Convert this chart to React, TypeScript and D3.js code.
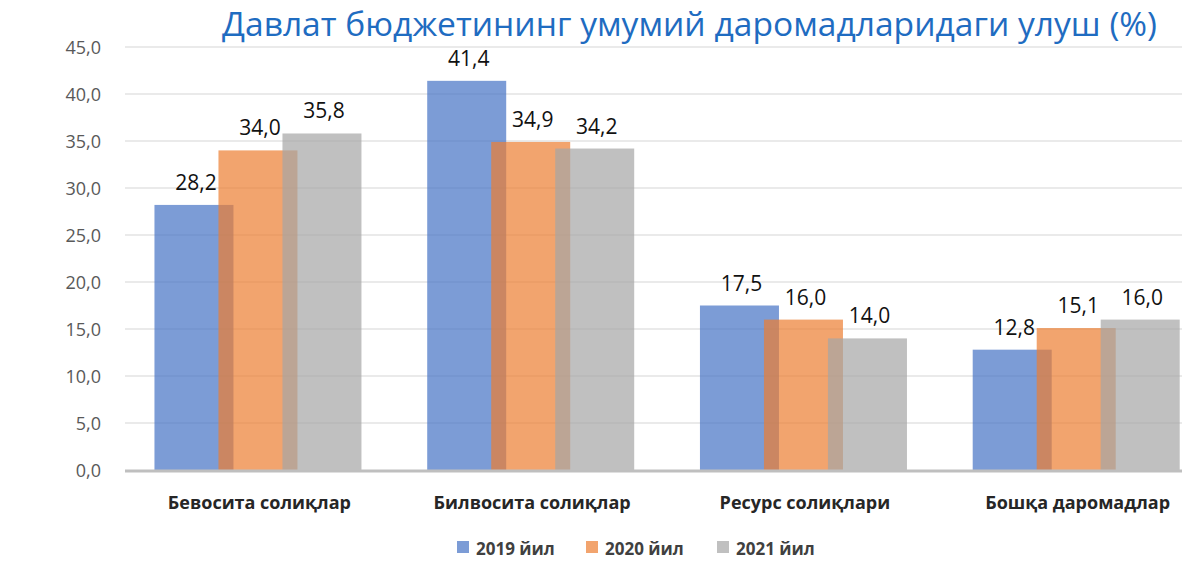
import * as d3 from "d3";

const categories = [
  "Бевосита солиқлар",
  "Билвосита солиқлар",
  "Ресурс солиқлари",
  "Бошқа даромадлар",
];
const seriesNames = ["2019 йил", "2020 йил", "2021 йил"];
const values2019 = [28.2, 41.4, 17.5, 12.8];
const values2020 = [34.0, 34.9, 16.0, 15.1];
const values2021 = [35.8, 34.2, 14.0, 16.0];
const yTicks = [0, 5, 10, 15, 20, 25, 30, 35, 40, 45];
const colors = ["#4472C4", "#ED7D31", "#A5A5A5"];

const title = "Давлат бюджетининг умумий даромадларидаги улуш (%)";
const W = 1182;
const H = 566;
const font = "'Open Sans', 'Noto Sans', sans-serif";
const fmt = (v: number) => d3.format(".1f")(v).replace(".", ",");

export default function App() {
  const series = [values2019, values2020, values2021];

  const x = d3
    .scaleBand<string>()
    .domain(categories)
    .range([122, 1213])
    .paddingInner(0.238)
    .paddingOuter(0.119);

  // bars inside a group overlap: offset 64px, width 79px
  const barW = 79;
  const inner = d3.scalePoint<string>().domain(seriesNames).range([0, 128]);

  const y = d3.scaleLinear().domain([0, 45]).range([470, 47]);

  const legendX = [457, 586, 717];

  return (
    <svg
      width={W}
      height={H}
      style={{ position: "absolute", left: 0, top: 0, background: "#fff" }}
      fontFamily={font}
    >
      <rect width={W} height={H} fill="#fff" />
      <text
        x={222}
        y={36}
        fontSize={33}
        fill="#1f6cc1"
        textLength={935}
        lengthAdjust="spacingAndGlyphs"
      >
        {title}
      </text>

      {yTicks.map((t) => (
        <g key={t}>
          {t > 0 && (
            <line x1={125} x2={W} y1={y(t)} y2={y(t)} stroke="#e3e3e3" strokeWidth={1.3} />
          )}
          <text
            x={101}
            y={y(t) + 6.5}
            textAnchor="end"
            fontSize={18}
            fill="#595959"
          >
            {fmt(t)}
          </text>
        </g>
      ))}

      {series.map((vals, si) => (
        <g key={seriesNames[si]}>
          {categories.map((c, ci) => {
            const bx = (x(c) ?? 0) + (inner(seriesNames[si]) ?? 0);
            return (
              <rect
                key={c}
                x={bx}
                y={y(vals[ci])}
                width={barW}
                height={y(0) - y(vals[ci])}
                fill={colors[si]}
                fillOpacity={0.7}
              />
            );
          })}
        </g>
      ))}

      <line x1={125} x2={W} y1={471} y2={471} stroke="#bfbfbf" strokeWidth={3} />

      {series.map((vals, si) =>
        categories.map((c, ci) => {
          const bx = (x(c) ?? 0) + (inner(seriesNames[si]) ?? 0);
          return (
            <text
              key={`${si}-${ci}`}
              x={bx + barW / 2 + 2}
              y={y(vals[ci]) - 15}
              textAnchor="middle"
              fontSize={21}
              fill="#111"
            >
              {fmt(vals[ci])}
            </text>
          );
        })
      )}

      {categories.map((c) => (
        <text
          key={c}
          x={(x(c) ?? 0) + x.bandwidth() / 2 + 1}
          y={509}
          textAnchor="middle"
          fontSize={18}
          fontWeight="bold"
          fill="#262626"
        >
          {c}
        </text>
      ))}

      {seriesNames.map((s, si) => (
        <g key={s} transform={`translate(${legendX[si]},541)`}>
          <rect width={12} height={12} fill={colors[si]} fillOpacity={0.7} />
          <text x={19} y={14} fontSize={17} fontWeight="bold" fill="#404040">
            {s}
          </text>
        </g>
      ))}
    </svg>
  );
}
